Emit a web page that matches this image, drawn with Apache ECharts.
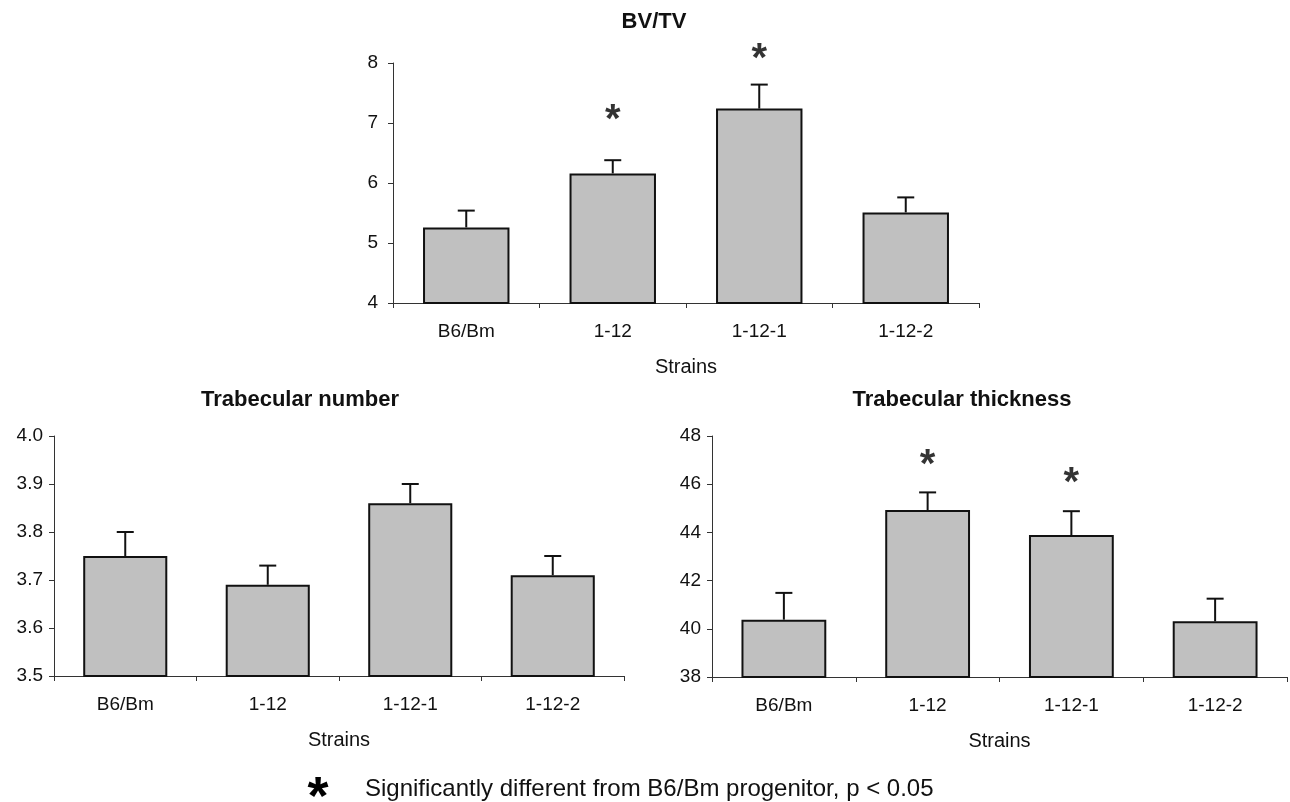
<!DOCTYPE html>
<html>
<head>
<meta charset="utf-8">
<script src="https://cdn.jsdelivr.net/npm/echarts@6/dist/echarts.min.js"></script>
<style>
html,body{margin:0;padding:0;background:#fff;}
#chart{width:1290px;height:802px;}
</style>
</head>
<body>
<div id="chart"></div>
<script>
var categories = ['B6/Bm', '1-12', '1-12-1', '1-12-2'];

var bvtvMean = [5.26, 6.16, 7.24, 5.51];
var bvtvErr  = [0.28, 0.22, 0.40, 0.25];
var bvtvStars = [null, 7.20, 8.22, null];

var tbnMean = [3.75, 3.69, 3.86, 3.71];
var tbnErr  = [0.05, 0.04, 0.04, 0.04];

var tbthMean = [40.38, 44.93, 43.89, 40.31];
var tbthErr  = [1.11, 0.73, 0.99, 0.94];
var tbthStars = [null, 47.16, 46.42, null];

var bvtvTicks = {min: 4, max: 8, interval: 1};
var tbnTicks = {min: 3.5, max: 4.0, interval: 0.1};
var tbthTicks = {min: 38, max: 48, interval: 2};

var FONT = '"Liberation Sans", Arial, Helvetica, sans-serif';
var AXIS_COLOR = '#333';
var TEXT_COLOR = '#111';

function errData(mean, err) {
  return mean.map(function (m, i) { return [i, m, m + err[i]]; });
}
function starData(stars) {
  var out = [];
  stars.forEach(function (s, i) { if (s != null) out.push([i, s]); });
  return out;
}

function renderErr(params, api) {
  var base = api.coord([api.value(0), api.value(1)]);
  var top = api.coord([api.value(0), api.value(2)]);
  var half = 8.5;
  return {
    type: 'group',
    children: [
      {type: 'line', shape: {x1: base[0], y1: base[1], x2: top[0], y2: top[1]},
       style: {stroke: '#111', lineWidth: 2}},
      {type: 'line', shape: {x1: top[0] - half, y1: top[1], x2: top[0] + half, y2: top[1]},
       style: {stroke: '#111', lineWidth: 2}}
    ]
  };
}

function xAxis(gi) {
  return {
    type: 'category', gridIndex: gi, data: categories,
    name: 'Strains', nameLocation: 'middle', nameGap: 54,
    nameTextStyle: {fontFamily: FONT, fontSize: 20, color: TEXT_COLOR},
    axisLine: {lineStyle: {color: AXIS_COLOR, width: 1}},
    axisTick: {show: true, length: 5, lineStyle: {color: AXIS_COLOR}},
    axisLabel: {fontFamily: FONT, fontSize: 19, color: TEXT_COLOR, margin: 19},
    splitLine: {show: false}
  };
}
function yAxis(gi, t, dec, margin) {
  return {
    type: 'value', gridIndex: gi, min: t.min, max: t.max, interval: t.interval,
    axisLine: {show: true, lineStyle: {color: AXIS_COLOR, width: 1}},
    axisTick: {show: true, length: 5, lineStyle: {color: AXIS_COLOR}},
    axisLabel: {fontFamily: FONT, fontSize: 19, color: TEXT_COLOR, margin: margin,
      formatter: function (v) { return v.toFixed(dec); }},
    splitLine: {show: false}
  };
}
function barSeries(i, data) {
  return {
    type: 'bar', xAxisIndex: i, yAxisIndex: i, data: data,
    barCategoryGap: '41%',
    itemStyle: {color: '#c0c0c0', borderColor: '#111', borderWidth: 2},
    silent: true, animation: false
  };
}
function errSeries(i, mean, err) {
  return {
    type: 'custom', xAxisIndex: i, yAxisIndex: i, data: errData(mean, err),
    renderItem: renderErr, silent: true, animation: false, z: 3
  };
}
function starSeries(i, stars) {
  return {
    type: 'scatter', xAxisIndex: i, yAxisIndex: i, data: starData(stars),
    symbolSize: 1, itemStyle: {color: 'transparent'}, clip: false,
    label: {show: true, position: 'inside', formatter: '*', offset: [0, 10],
      fontFamily: FONT, fontSize: 40, fontWeight: 'bold', color: '#000'},
    silent: true, animation: false
  };
}

var chart = echarts.init(document.getElementById('chart'), null, {renderer: 'canvas'});
chart.setOption({
  backgroundColor: '#fff',
  animation: false,
  grid: [
    {left: 393, top: 63, width: 586, height: 240},
    {left: 54, top: 436, width: 570, height: 240},
    {left: 712, top: 436, width: 575, height: 241}
  ],
  xAxis: [xAxis(0), xAxis(1), xAxis(2)],
  yAxis: [yAxis(0, bvtvTicks, 0, 15), yAxis(1, tbnTicks, 1, 11), yAxis(2, tbthTicks, 0, 11)],
  series: [
    barSeries(0, bvtvMean), errSeries(0, bvtvMean, bvtvErr), starSeries(0, bvtvStars),
    barSeries(1, tbnMean), errSeries(1, tbnMean, tbnErr),
    barSeries(2, tbthMean), errSeries(2, tbthMean, tbthErr), starSeries(2, tbthStars)
  ],
  graphic: [
    {type: 'text', x: 654, y: 22, style: {text: 'BV/TV', align: 'center', verticalAlign: 'middle',
      font: 'bold 22px ' + FONT, fill: TEXT_COLOR}},
    {type: 'text', x: 300, y: 400, style: {text: 'Trabecular number', align: 'center', verticalAlign: 'middle',
      font: 'bold 22px ' + FONT, fill: TEXT_COLOR}},
    {type: 'text', x: 962, y: 400, style: {text: 'Trabecular thickness', align: 'center', verticalAlign: 'middle',
      font: 'bold 22px ' + FONT, fill: TEXT_COLOR}},
    {type: 'text', x: 318, y: 799, style: {text: '*', align: 'center', verticalAlign: 'middle',
      font: 'bold 54px ' + FONT, fill: '#000'}},
    {type: 'text', x: 365, y: 789, style: {text: 'Significantly different from B6/Bm progenitor, p < 0.05', align: 'left', verticalAlign: 'middle',
      font: '24px ' + FONT, fill: TEXT_COLOR}}
  ]
});
</script>
</body>
</html>
